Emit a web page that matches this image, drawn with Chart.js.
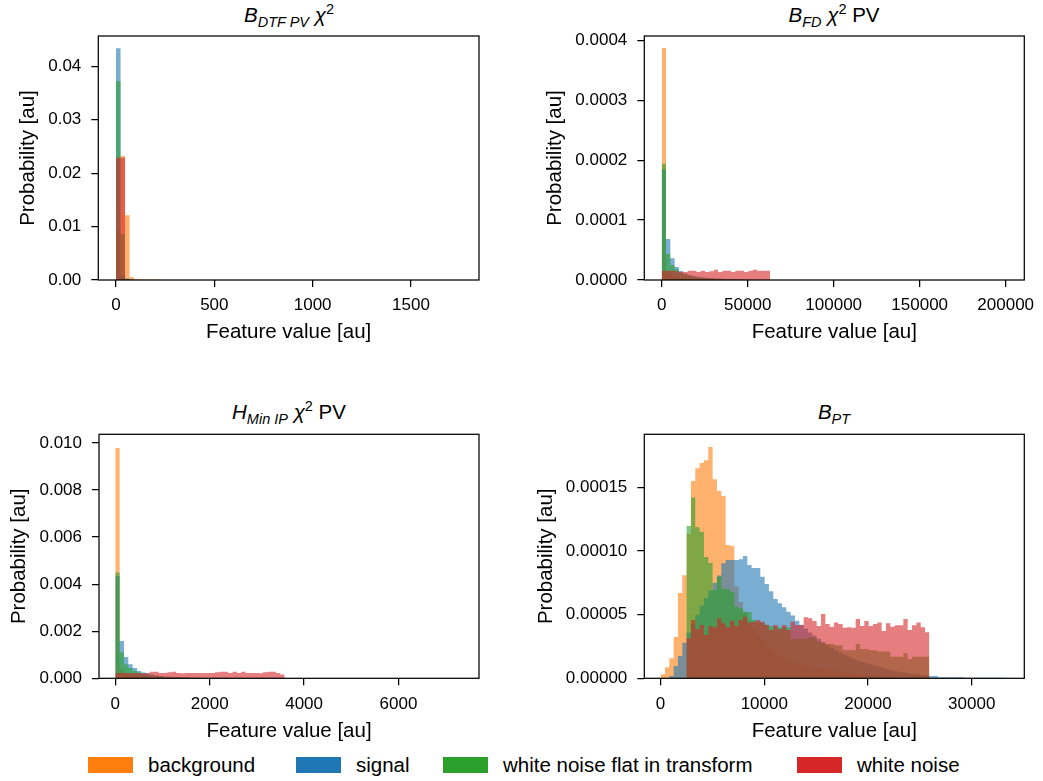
<!DOCTYPE html>
<html>
<head>
<meta charset="utf-8">
<script src="https://cdn.jsdelivr.net/npm/chart.js@4.4.1/dist/chart.umd.min.js"></script>
<style>
  html, body { margin: 0; padding: 0; background: #fff; }
  body { width: 1043px; height: 781px; position: relative; overflow: hidden;
         font-family: "Liberation Sans", Arial, sans-serif; color: #000; }
  canvas { position: absolute; }
  .ttl { position: absolute; width: 380px; text-align: center; font-size: 20.5px;
         line-height: 24px; white-space: nowrap; }
  .ttl .sb { font-size: 14.5px; position: relative; top: 5px; }
  .ttl .sp { font-size: 14.5px; position: relative; top: -8px; }
  .box { position: absolute; width: 45px; height: 16px; top: 757px; }
  .lab { position: absolute; top: 753px; font-size: 20.5px; line-height: 24px; white-space: nowrap; }
</style>
</head>
<body>
<div class="ttl" style="left:99px; top:3px;"><i>B</i><i class="sb">DTF PV</i> <i>χ</i><span class="sp">2</span></div>
<div class="ttl" style="left:644px; top:3px;"><i>B</i><i class="sb">FD</i> <i>χ</i><span class="sp">2</span> PV</div>
<div class="ttl" style="left:99px; top:400px;"><i>H</i><i class="sb">Min IP</i> <i>χ</i><span class="sp">2</span> PV</div>
<div class="ttl" style="left:644px; top:400px;"><i>B</i><i class="sb">PT</i></div>

<canvas id="p1" width="500" height="320" style="left:0px; top:30px;"></canvas>
<canvas id="p2" width="522" height="320" style="left:521px; top:30px;"></canvas>
<canvas id="p3" width="500" height="320" style="left:0px; top:428px;"></canvas>
<canvas id="p4" width="522" height="320" style="left:521px; top:428px;"></canvas>

<div id="legend"></div>

<script>
const seriesNames = ['background', 'signal', 'white noise flat in transform', 'white noise'];

// ---- panel 1: B_DTF PV chi2 ----
const p1Bin = 23;
const p1Background = [0.0094, 0.0232, 0.0121, 0.0005, 0.0002, 0.0001, 0.0001, 0.0001, 0.0001, 0.0001];
const p1Signal = [0.0434, 0.0008, 0.0002, 0.0001];
const p1WnFlat = [0.0372, 0.0086, 0.0003, 0.0001];
const p1WhiteNoise = [0.0229, 0.0229, 0.0002];
const p1XTicks = [0, 500, 1000, 1500];
const p1XLabels = ['0', '500', '1000', '1500'];
const p1YTicks = [0, 0.01, 0.02, 0.03, 0.04];
const p1YLabels = ['0.00', '0.01', '0.02', '0.03', '0.04'];

// ---- panel 2: B_FD chi2 PV ----
const p2Bin = 2500;
const p2RedBin = 2520;
const p2Background = [0.000387, 0.0000142, 0.0000085, 0.000006, 0.0000045, 0.0000035, 0.000003, 0.0000025,
  0.000002, 0.0000018, 0.0000015, 0.0000012, 0.000001];
const p2Signal = [0.000185, 0.0000685, 0.0000362, 0.0000217, 0.000015, 0.000011, 0.0000085, 0.0000068,
  0.0000055, 0.0000045, 0.0000038, 0.0000032, 0.0000027, 0.0000023, 0.000002, 0.0000017, 0.0000015,
  0.0000013, 0.0000011, 0.000001];
const p2WnFlat = [0.000194, 0.0000434, 0.000025, 0.000018, 0.000012, 0.000009, 0.000007, 0.0000055,
  0.0000045, 0.0000035, 0.000003, 0.0000025, 0.000002, 0.0000017, 0.0000014, 0.0000012, 0.000001];
const p2WhiteNoise = [1.56e-5, 1.56e-5, 1.56e-5, 1.45e-5, 1.34e-5, 1.34e-5, 1.56e-5, 1.56e-5, 1.34e-5,
  1.56e-5, 1.34e-5, 1.45e-5, 1.72e-5, 1.34e-5, 1.56e-5, 1.56e-5, 1.34e-5, 1.56e-5, 1.56e-5, 1.34e-5,
  1.56e-5, 1.72e-5, 1.56e-5, 1.56e-5, 1.56e-5];
const p2XTicks = [0, 50000, 100000, 150000, 200000];
const p2XLabels = ['0', '50000', '100000', '150000', '200000'];
const p2YTicks = [0, 0.0001, 0.0002, 0.0003, 0.0004];
const p2YLabels = ['0.0000', '0.0001', '0.0002', '0.0003', '0.0004'];

// ---- panel 3: H_Min IP chi2 PV ----
const p3Bin = 92;
const p3Background = [0.00978, 0.0004, 0.00022, 0.00015, 0.00011, 0.00008, 0.00006, 0.00005, 0.00004,
  0.00003, 0.000025, 0.00002, 0.000015, 0.00001];
const p3Signal = [0.00434, 0.00158, 0.0009, 0.0006, 0.00044, 0.00031, 0.00025, 0.0002, 0.00016, 0.00013,
  0.0001, 0.00008, 0.00007, 0.00006, 0.00005, 0.00004, 0.00003, 0.000025, 0.00002];
const p3WnFlat = [0.0045, 0.00111, 0.0006, 0.00044, 0.00031, 0.00025, 0.0002, 0.00015, 0.00012, 0.0001,
  0.00008, 0.00006, 0.00005, 0.00004, 0.00003, 0.000025, 0.00002];
const p3WhiteNoise = [0.00023, 0.00023, 0.00023, 0.00023, 0.00023, 0.00023, 0.00021, 0.00023, 0.00028,
  0.00028, 0.00023, 0.00023, 0.000255, 0.00028, 0.00023, 0.00021, 0.00023, 0.00023, 0.00023, 0.00023,
  0.00023, 0.00023, 0.00023, 0.000255, 0.00028, 0.00028, 0.00023, 0.00028, 0.00023, 0.00028, 0.00023,
  0.00023, 0.00023, 0.00021, 0.000255, 0.00028, 0.00028, 0.00023, 0.00016];
const p3XTicks = [0, 2000, 4000, 6000];
const p3XLabels = ['0', '2000', '4000', '6000'];
const p3YTicks = [0, 0.002, 0.004, 0.006, 0.008, 0.010];
const p3YLabels = ['0.000', '0.002', '0.004', '0.006', '0.008', '0.010'];

// ---- panel 4: B_PT ----
const p4Bin = 418;
const p4Background = [3.1e-6, 8.6e-6, 1.57e-5, 3.24e-5, 6.7e-5, 8.1e-5, 1.133e-4, 1.549e-4, 1.65e-4,
  1.69e-4, 1.713e-4, 1.816e-4, 1.564e-4, 1.47e-4, 1.431e-4, 1.046e-4, 1.038e-4, 7.2e-5, 6e-5, 5.2e-5,
  4.5e-5, 3.9e-5, 3.4e-5, 3e-5, 2.6e-5, 2.3e-5, 2e-5, 1.8e-5, 1.6e-5, 1.4e-5, 1.3e-5, 1.2e-5, 1.1e-5,
  1e-5, 9e-6, 8.5e-6, 8e-6, 7.5e-6, 7e-6, 6.5e-6, 6e-6, 5.5e-6, 5e-6, 4.5e-6, 4e-6, 3.6e-6, 3.2e-6,
  2.9e-6, 2.6e-6, 2.3e-6, 2e-6];
const p4Signal = [0, 0, 1.8e-6, 9.6e-6, 1.75e-5, 2.8e-5, 3.6e-5, 4.3e-5, 5e-5, 5.7e-5, 6.3e-5, 6.9e-5,
  7.5e-5, 8.08e-5, 9.03e-5, 9.29e-5, 9.29e-5, 9.29e-5, 9.34e-5, 9.6e-5, 8.89e-5, 8.66e-5, 8.66e-5,
  7.98e-5, 7.4e-5, 6.83e-5, 6.22e-5, 5.89e-5, 5.57e-5, 5.23e-5, 4.94e-5, 4.52e-5, 4.2e-5, 3.9e-5,
  3.6e-5, 3.35e-5, 3.1e-5, 2.85e-5, 2.6e-5, 2.4e-5, 2.2e-5, 2e-5, 1.85e-5, 1.7e-5, 1.55e-5, 1.4e-5,
  1.3e-5, 1.2e-5, 1.1e-5, 1e-5, 9e-6, 8e-6, 7e-6, 6e-6, 5.5e-6, 5e-6, 4.5e-6, 4e-6, 3.5e-6, 3e-6,
  2.5e-6, 2.2e-6, 1.8e-6, 1.8e-6, 8e-7, 8e-7, 8e-7, 8e-7, 8e-7, 8e-7, 4e-7, 4e-7, 4e-7, 4e-7, 4e-7,
  4e-7, 4e-7, 4e-7, 4e-7];
const p4WnFlat = [0, 0, 0, 0, 0, 0, 1.195e-4, 1.42e-4, 1.187e-4, 1.148e-4, 9.52e-5, 9.05e-5, 6.93e-5,
  7.98e-5, 7.04e-5, 7e-5, 6.77e-5, 5.62e-5, 5.5e-5, 5.23e-5, 5.2e-5, 4.58e-5, 4.44e-5, 4.37e-5, 4.2e-5,
  4.1e-5, 4e-5, 4e-5, 4e-5, 4e-5, 3.1e-5, 3.1e-5, 3.1e-5, 3.1e-5, 3.2e-5, 3.2e-5, 2.9e-5, 2.8e-5,
  2.7e-5, 2.7e-5, 2.6e-5, 2.6e-5, 2.2e-5, 2.2e-5, 2.2e-5, 2.7e-5, 2.3e-5, 2.3e-5, 2.2e-5, 2.2e-5,
  2.1e-5, 2.1e-5, 2.1e-5, 1.7e-5, 1.7e-5, 1.7e-5, 1.96e-5, 1.5e-5, 1.7e-5, 1.7e-5, 1.7e-5, 1.7e-5];
const p4WhiteNoise = [0, 0, 0, 0, 0, 0, 3.14e-5, 4.58e-5, 3.85e-5, 4.18e-5, 3.4e-5, 4.1e-5, 4e-5,
  4.71e-5, 4.32e-5, 4e-5, 4.52e-5, 4.1e-5, 4.58e-5, 4.84e-5, 4.37e-5, 4.44e-5, 4.58e-5, 4.44e-5,
  4.18e-5, 3.79e-5, 4.18e-5, 3.85e-5, 4.18e-5, 3.79e-5, 4.44e-5, 4.18e-5, 4.18e-5, 4.79e-5, 4.71e-5,
  4.5e-5, 4.1e-5, 5.05e-5, 4.26e-5, 4.05e-5, 4.39e-5, 4.26e-5, 3.97e-5, 4e-5, 3.97e-5, 4.65e-5,
  4.1e-5, 4.5e-5, 4.1e-5, 4.26e-5, 4.39e-5, 3.71e-5, 4.32e-5, 4.05e-5, 4.16e-5, 4.16e-5, 4.65e-5,
  3.79e-5, 4.16e-5, 4.39e-5, 4e-5, 3.61e-5];
const p4XTicks = [0, 10000, 20000, 30000];
const p4XLabels = ['0', '10000', '20000', '30000'];
const p4YTicks = [0, 0.00005, 0.0001, 0.00015];
const p4YLabels = ['0.00000', '0.00005', '0.00010', '0.00015'];

// cores tab10 com alpha do matplotlib
const solidColors = ['#ff7f0e', '#1f77b4', '#2ca02c', '#d62728'];
const fillColors = ['rgba(255,127,14,0.6)', 'rgba(31,119,180,0.6)', 'rgba(44,160,44,0.6)', 'rgba(214,39,40,0.6)'];
const FONT = '"Liberation Sans", Arial, sans-serif';

// pontos do histograma (degraus a partir das bordas dos bins)
function histPoints(binWidth, heights) {
  const pts = heights.map((h, i) => ({ x: i * binWidth, y: h }));
  pts.push({ x: heights.length * binWidth, y: heights[heights.length - 1] });
  return pts;
}

const framePlugin = {
  id: 'frame',
  afterDatasetsDraw(chart) {
    const { ctx, chartArea: a } = chart;
    ctx.save();
    ctx.strokeStyle = '#000';
    ctx.lineWidth = 1.25;
    ctx.strokeRect(a.left, a.top, a.right - a.left, a.bottom - a.top);
    ctx.restore();
  }
};

function makePanel(id, p) {
  const datasets = p.series.map((s, i) => ({
    label: seriesNames[i],
    data: histPoints(s.bin, s.values),
    stepped: 'before',
    fill: 'origin',
    backgroundColor: fillColors[i],
    borderWidth: 0,
    pointRadius: 0,
    order: 4 - i
  }));
  new Chart(document.getElementById(id), {
    type: 'line',
    data: { datasets },
    plugins: [framePlugin],
    options: {
      responsive: false,
      animation: false,
      events: [],
      layout: { padding: { top: p.padTop, right: p.padRight, left: 0, bottom: 0 } },
      plugins: { legend: { display: false }, tooltip: { enabled: false } },
      scales: {
        x: {
          type: 'linear',
          min: p.xMin, max: p.xMax,
          grid: { drawOnChartArea: false, tickLength: 7, color: '#000', lineWidth: 1.25 },
          border: { display: false },
          afterBuildTicks: (sc) => { sc.ticks = p.xTicks.map(v => ({ value: v })); },
          afterFit: (sc) => { sc.height = p.xH; sc.paddingLeft = 0; sc.paddingRight = 0; },
          ticks: {
            color: '#000', padding: p.xTickPad, maxRotation: 0, autoSkip: false,
            font: { family: FONT, size: 17 },
            callback: (v, i) => p.xLabels[i]
          },
          title: {
            display: true, text: 'Feature value [au]', color: '#000',
            font: { family: FONT, size: 20.5 }, padding: { top: 0, bottom: p.xTitlePad }
          }
        },
        y: {
          min: 0, max: p.yMax,
          grid: { drawOnChartArea: false, tickLength: 7, color: '#000', lineWidth: 1.25 },
          border: { display: false },
          afterBuildTicks: (sc) => { sc.ticks = p.yTicks.map(v => ({ value: v })); },
          afterFit: (sc) => { sc.width = p.yW; sc.paddingTop = 0; sc.paddingBottom = 0; },
          ticks: {
            color: '#000', padding: 10, autoSkip: false,
            font: { family: FONT, size: 17 },
            callback: (v, i) => p.yLabels[i]
          },
          title: {
            display: true, text: 'Probability [au]', color: '#000',
            font: { family: FONT, size: 20.5 }, padding: { top: p.yTitlePad, bottom: 0 }
          }
        }
      }
    }
  });
}

makePanel('p1', {
  series: [
    { bin: p1Bin, values: p1Background }, { bin: p1Bin, values: p1Signal },
    { bin: p1Bin, values: p1WnFlat }, { bin: p1Bin, values: p1WhiteNoise }
  ],
  xMin: -90, xMax: 1846, yMax: 0.04567,
  xTicks: p1XTicks, xLabels: p1XLabels, yTicks: p1YTicks, yLabels: p1YLabels,
  padTop: 6, padRight: 21, yW: 98.3, xH: 70, yTitlePad: 16.5, xTitlePad: 5, xTickPad: 8
});
makePanel('p2', {
  series: [
    { bin: p2Bin, values: p2Background }, { bin: p2Bin, values: p2Signal },
    { bin: p2Bin, values: p2WnFlat }, { bin: p2RedBin, values: p2WhiteNoise }
  ],
  xMin: -10116, xMax: 210814, yMax: 0.0004072,
  xTicks: p2XTicks, xLabels: p2XLabels, yTicks: p2YTicks, yLabels: p2YLabels,
  padTop: 6, padRight: 18.7, yW: 123.3, xH: 70, yTitlePad: 22.5, xTitlePad: 5, xTickPad: 8
});
makePanel('p3', {
  series: [
    { bin: p3Bin, values: p3Background }, { bin: p3Bin, values: p3Signal },
    { bin: p3Bin, values: p3WnFlat }, { bin: p3Bin, values: p3WhiteNoise }
  ],
  xMin: -345, xMax: 7705, yMax: 0.010367,
  xTicks: p3XTicks, xLabels: p3XLabels, yTicks: p3YTicks, yLabels: p3YLabels,
  padTop: 6.3, padRight: 21, yW: 99, xH: 69.7, yTitlePad: 7, xTitlePad: 4, xTickPad: 9
});
makePanel('p4', {
  series: [
    { bin: p4Bin, values: p4Background }, { bin: p4Bin, values: p4Signal },
    { bin: p4Bin, values: p4WnFlat }, { bin: p4Bin, values: p4WhiteNoise }
  ],
  xMin: -1572, xMax: 35072, yMax: 0.0001916,
  xTicks: p4XTicks, xLabels: p4XLabels, yTicks: p4YTicks, yLabels: p4YLabels,
  padTop: 6.3, padRight: 18.7, yW: 123.3, xH: 69.7, yTitlePad: 13.5, xTitlePad: 4, xTickPad: 9
});

// legenda comum em baixo
const legendBoxX = [88, 296, 443, 797];
const legend = document.getElementById('legend');
seriesNames.forEach((name, i) => {
  const box = document.createElement('span');
  box.className = 'box';
  box.style.left = legendBoxX[i] + 'px';
  box.style.background = solidColors[i];
  legend.appendChild(box);
  const lab = document.createElement('span');
  lab.className = 'lab';
  lab.style.left = (legendBoxX[i] + 60) + 'px';
  lab.textContent = name;
  legend.appendChild(lab);
});
</script>
</body>
</html>
